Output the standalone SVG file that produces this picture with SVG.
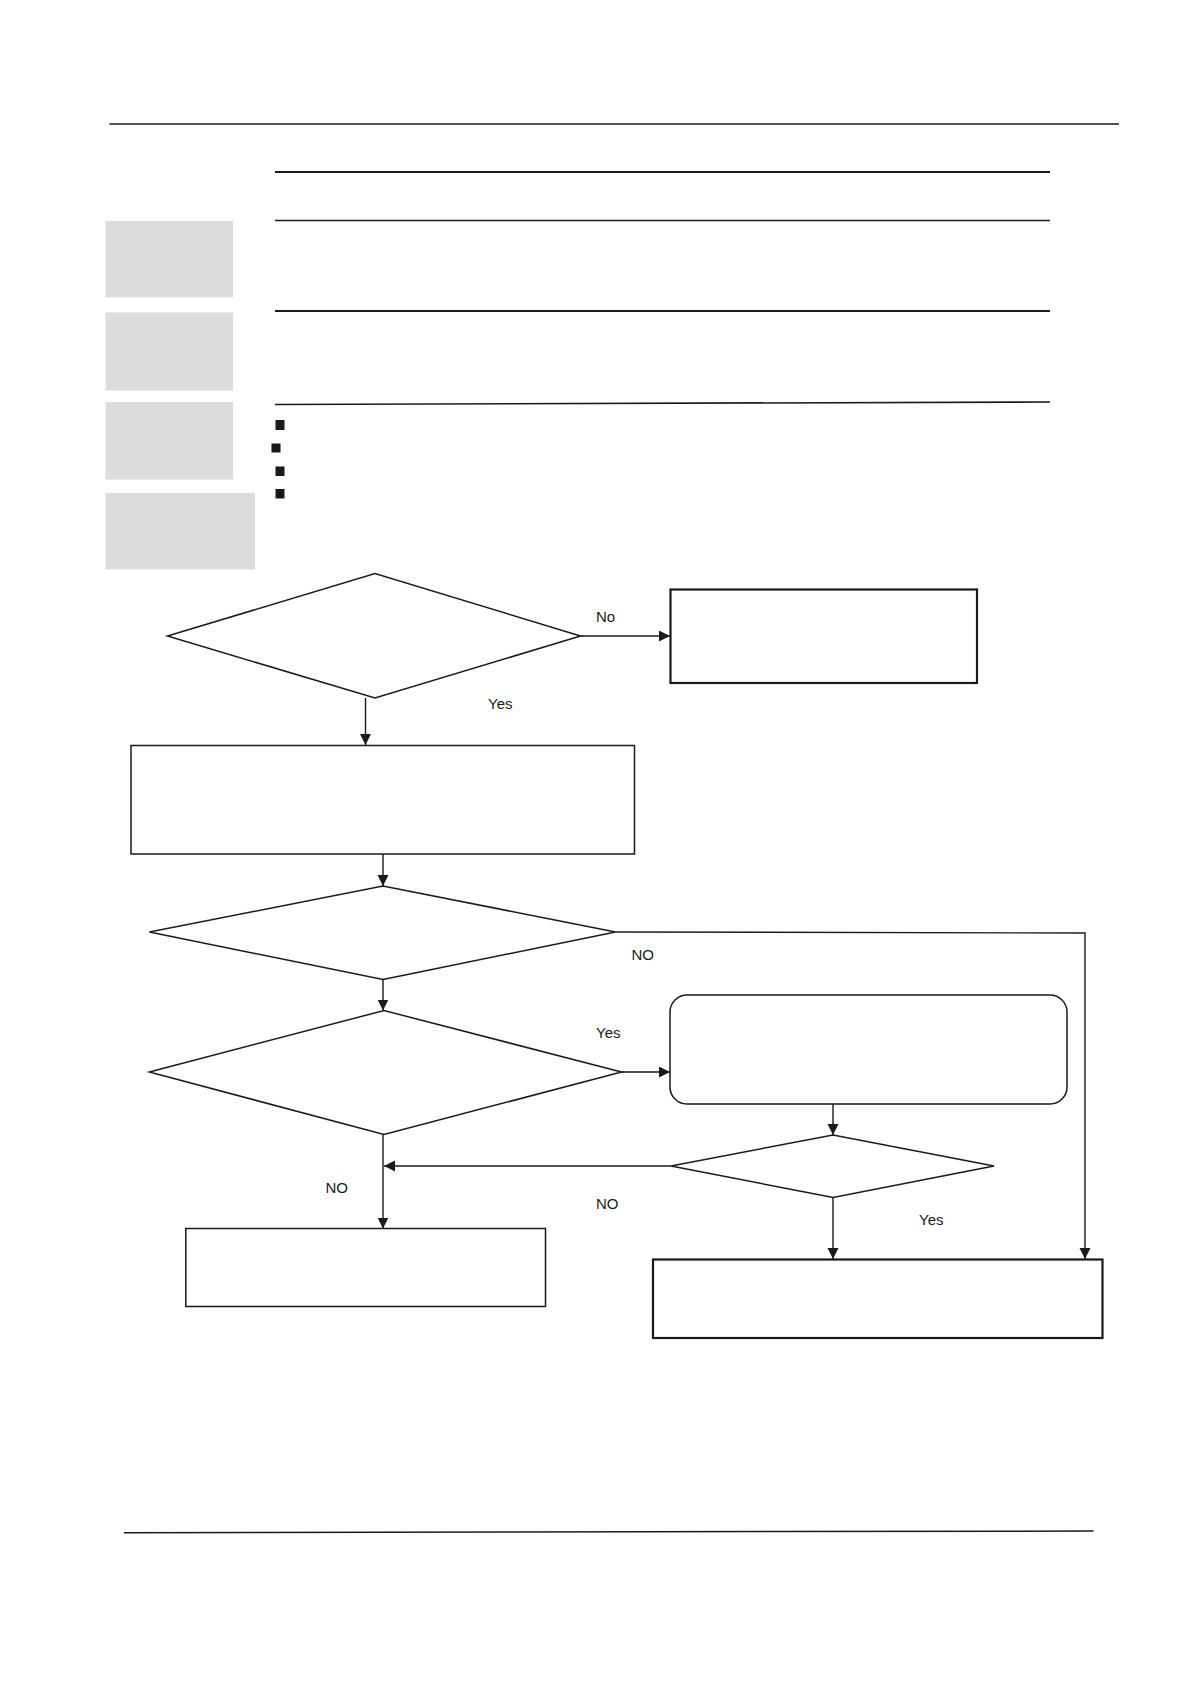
<svg xmlns="http://www.w3.org/2000/svg" width="1190" height="1684" viewBox="0 0 1190 1684">
  <style>
    .shape { fill: #ffffff; stroke: #1a1a1a; stroke-width: 1.5; }
    .thick { stroke-width: 2.2; }
    .conn { fill: none; stroke: #1a1a1a; stroke-width: 1.4; }
    .rule { stroke: #1a1a1a; fill: none; }
    .grey { fill: #dcdcdc; }
    .bullet { fill: #1a1a1a; }
    .lbl { font-family: "Liberation Sans", Arial, sans-serif; font-size: 15px; fill: #1a1a1a; }
  </style>
  <defs>
    <marker id="arrow" markerUnits="userSpaceOnUse" markerWidth="12" markerHeight="12" refX="11" refY="5.5" orient="auto">
      <path d="M0,0 L11,5.5 L0,11 z" fill="#1a1a1a"/>
    </marker>
  </defs>
  <rect width="1190" height="1684" fill="#ffffff"/>

  <g id="page-rules">
    <line class="rule" x1="109.5" y1="124" x2="1119" y2="124" stroke-width="1.3"/>
    <line class="rule" x1="275" y1="172" x2="1050" y2="172" stroke-width="2.2"/>
    <line class="rule" x1="275" y1="220.5" x2="1050" y2="220.5" stroke-width="1.3"/>
    <line class="rule" x1="275" y1="311" x2="1050" y2="311" stroke-width="2.2"/>
    <line class="rule" x1="275" y1="404.5" x2="1050" y2="402" stroke-width="1.6"/>
    <line class="rule" x1="124" y1="1532.7" x2="1093.6" y2="1531" stroke-width="1.5"/>
  </g>

  <g id="side-tabs">
    <rect class="grey" x="105.5" y="221" width="127.5" height="76.5"/>
    <rect class="grey" x="105.5" y="312.5" width="127.5" height="78"/>
    <rect class="grey" x="105.5" y="402" width="127.5" height="77.5"/>
    <rect class="grey" x="105.5" y="493" width="149.5" height="76.5"/>
  </g>

  <g id="bullets">
    <rect class="bullet" x="275.5" y="420" width="9" height="10"/>
    <rect class="bullet" x="271.5" y="443.5" width="9" height="9"/>
    <rect class="bullet" x="275.5" y="466.5" width="9" height="9.5"/>
    <rect class="bullet" x="275.5" y="489" width="9" height="9.5"/>
  </g>

  <g id="connectors">
    <line class="conn" x1="580.6" y1="636" x2="670" y2="636" marker-end="url(#arrow)"/>
    <line class="conn" x1="365.5" y1="698" x2="365.5" y2="745" marker-end="url(#arrow)"/>
    <line class="conn" x1="383" y1="854" x2="383" y2="886" marker-end="url(#arrow)"/>
    <polyline class="conn" points="615.5,932 1085,933 1085,1259" marker-end="url(#arrow)"/>
    <line class="conn" x1="383" y1="979.5" x2="383" y2="1010.5" marker-end="url(#arrow)"/>
    <line class="conn" x1="621.5" y1="1072" x2="670" y2="1072" marker-end="url(#arrow)"/>
    <line class="conn" x1="833" y1="1104" x2="833" y2="1135" marker-end="url(#arrow)"/>
    <line class="conn" x1="671" y1="1166" x2="384" y2="1166" marker-end="url(#arrow)"/>
    <line class="conn" x1="383" y1="1134.5" x2="383" y2="1228.5" marker-end="url(#arrow)"/>
    <line class="conn" x1="833" y1="1197.5" x2="833" y2="1259" marker-end="url(#arrow)"/>
  </g>

  <g id="edge-labels">
    <text class="lbl" x="596" y="622">No</text>
    <text class="lbl" x="488" y="709">Yes</text>
    <text class="lbl" x="631.5" y="959.5">NO</text>
    <text class="lbl" x="596" y="1037.5">Yes</text>
    <text class="lbl" x="596" y="1209">NO</text>
    <text class="lbl" x="325.5" y="1193">NO</text>
    <text class="lbl" x="919" y="1224.5">Yes</text>
  </g>

  <g id="decision-1">
    <polygon class="shape" points="167.5,636 375,573.5 580.6,636 375,698"/>
  </g>
  <g id="box-no">
    <rect class="shape thick" x="670.5" y="589.5" width="306.5" height="93.5"/>
  </g>
  <g id="box-2">
    <rect class="shape" x="131" y="745.5" width="503.5" height="108.5"/>
  </g>
  <g id="decision-2">
    <polygon class="shape" points="149.4,932 383,886 615.5,932 383,979.5"/>
  </g>
  <g id="decision-3">
    <polygon class="shape" points="149.4,1072 384,1010.5 621.5,1072 384,1134.5"/>
  </g>
  <g id="rounded-box">
    <rect class="shape" x="670" y="995" width="397" height="109" rx="17" ry="17"/>
  </g>
  <g id="decision-4">
    <polygon class="shape" points="671,1166 833,1135 994,1166 833,1197.5"/>
  </g>
  <g id="box-3">
    <rect class="shape" x="185.8" y="1228.5" width="359.7" height="78"/>
  </g>
  <g id="box-4">
    <rect class="shape thick" x="653" y="1259.5" width="449.5" height="78.5"/>
  </g>
</svg>
